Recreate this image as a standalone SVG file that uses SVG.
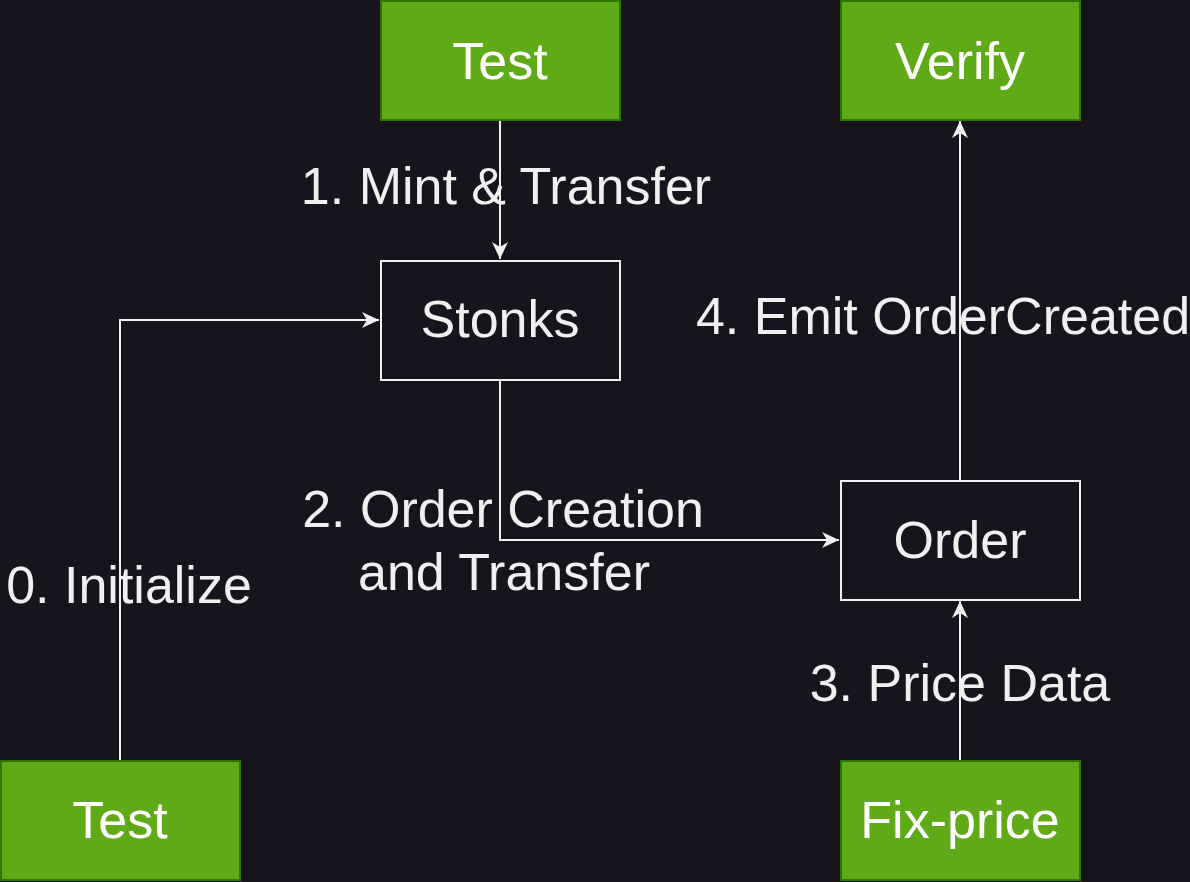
<svg xmlns="http://www.w3.org/2000/svg" width="1190" height="882" viewBox="0 0 1190 882">
<style>
.bg{fill:#18141d}
.green rect{fill:#60a917;stroke:#2d7600;stroke-width:2}
.plain rect{fill:#18141d;stroke:#f0f0f0;stroke-width:2}
text{font-family:"Liberation Sans",Arial,Helvetica,sans-serif;font-size:52px;text-anchor:middle}
.green text{fill:#ffffff}
.plain text,.lbl{fill:#f0f0f0}
.edge{fill:none;stroke:#f0f0f0;stroke-width:2;marker-end:url(#arr)}
</style>
<defs>
<marker id="arr" viewBox="0 0 18 16" refX="17" refY="8" markerWidth="18" markerHeight="16" markerUnits="userSpaceOnUse" orient="auto">
<path d="M17,8 L0,0 L5,8 L0,16 Z" fill="#f0f0f0"/>
</marker>
</defs>
<rect class="bg" x="0" y="0" width="1190" height="882"/>
<g id="connectors">
<path class="edge" d="M500,121 L500,259"/>
<path class="edge" d="M120,760 L120,320 L379,320"/>
<path class="edge" d="M500,381 L500,540 L839,540"/>
<path class="edge" d="M960,760 L960,601"/>
<path class="edge" d="M960,480 L960,121"/>
</g>
<g id="labels">
<text class="lbl" x="506" y="204">1. Mint &amp; Transfer</text>
<text class="lbl" x="943" y="334">4. Emit OrderCreated</text>
<text class="lbl" x="503" y="527">2. Order Creation</text>
<text class="lbl" x="504" y="590">and Transfer</text>
<text class="lbl" x="129" y="603">0. Initialize</text>
<text class="lbl" x="960" y="701">3. Price Data</text>
</g>
<g id="test-top" class="green"><rect x="381" y="1" width="239" height="119"/><text x="500" y="79">Test</text></g>
<g id="verify" class="green"><rect x="841" y="1" width="239" height="119"/><text x="960" y="79">Verify</text></g>
<g id="stonks" class="plain"><rect x="381" y="261" width="239" height="119"/><text x="500" y="337">Stonks</text></g>
<g id="order" class="plain"><rect x="841" y="481" width="239" height="119"/><text x="960" y="558">Order</text></g>
<g id="test-bottom" class="green"><rect x="1" y="761" width="239" height="119"/><text x="120" y="838">Test</text></g>
<g id="fix-price" class="green"><rect x="841" y="761" width="239" height="119"/><text x="960" y="838">Fix-price</text></g>
</svg>
